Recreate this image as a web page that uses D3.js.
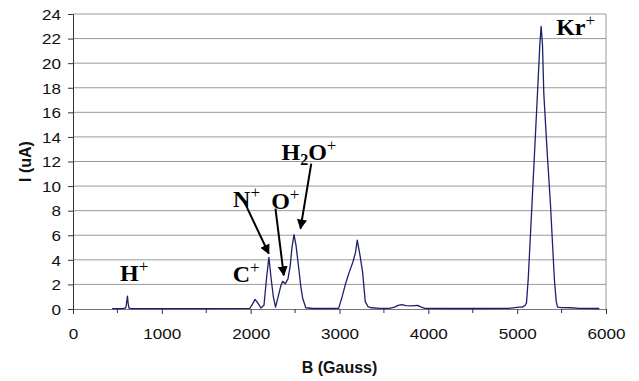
<!DOCTYPE html>
<html>
<head>
<meta charset="utf-8">
<script src="https://cdn.jsdelivr.net/npm/d3@7"></script>
<style>
  html, body { margin: 0; padding: 0; background: #fff; }
  svg { display: block; }
</style>
</head>
<body>
<div id="chart"></div>
<script>
// magnetic field (Gauss) and beam current (uA)
var fieldB = [440, 560, 595, 605, 613, 620, 630, 660, 1000, 1500, 1990, 2020, 2050, 2080, 2115,
  2150, 2180, 2205, 2230, 2255, 2280, 2310, 2340, 2360, 2390, 2420, 2445, 2465, 2488, 2510,
  2540, 2565, 2585, 2620, 2700, 2900, 2990, 3030, 3070, 3110, 3150, 3180, 3200, 3230, 3260,
  3290, 3320, 3360, 3450, 3560, 3620, 3660, 3700, 3750, 3800, 3850, 3880, 3920, 3960, 4200,
  4600, 4900, 4980, 5020, 5060, 5090, 5105, 5125, 5170, 5225, 5255, 5270, 5285, 5300, 5340,
  5375, 5400, 5420, 5440, 5455, 5500, 5600, 5700, 5925];
var currentI = [0.03, 0.03, 0.1, 0.6, 1.05, 0.5, 0.08, 0.03, 0.03, 0.03, 0.05, 0.4, 0.78, 0.5, 0.08,
  0.3, 2.6, 4.2, 2.5, 1.0, 0.15, 1.0, 1.9, 2.25, 2.05, 2.45, 3.5, 5.0, 6.05, 5.2,
  3.4, 1.8, 0.9, 0.1, 0.04, 0.04, 0.05, 1.0, 2.1, 3.0, 3.8, 4.6, 5.6, 4.4, 3.0,
  0.6, 0.2, 0.1, 0.05, 0.05, 0.15, 0.3, 0.35, 0.28, 0.25, 0.28, 0.3, 0.15, 0.05, 0.04,
  0.04, 0.05, 0.12, 0.15, 0.15, 0.3, 0.5, 2.5, 9.0, 17.0, 21.5, 23.0, 21.5, 17.5, 12.5,
  8.5, 5.0, 2.3, 0.6, 0.15, 0.12, 0.1, 0.05, 0.04];

var xTicks = [0, 1000, 2000, 3000, 4000, 5000, 6000];
var xMinorTicks = [500, 1500, 2500, 3500, 4500, 5500];
var yTicks = [0, 2, 4, 6, 8, 10, 12, 14, 16, 18, 20, 22, 24];

// ion labels: text, subscript, anchor point in data units
var ionNames = ["H", "C", "N", "O", "H", "Kr"];
var ionSubs = ["", "", "", "", "2O", ""];
var ionAtB = [530, 1798, 1802, 2231, 2347, 5439];
var ionAtI = [2.25, 2.2, 8.3, 8.17, 12.14, 22.33];

// arrows from label to peak, data units
var arrowFromB = [1930, 2279, 2682];
var arrowFromI = [8.7, 8.17, 11.83];
var arrowToB = [2204, 2373, 2561];
var arrowToI = [4.5, 2.74, 6.54];

var width = 639, height = 381;
var margin = {top: 14, right: 33, bottom: 72, left: 73};
var innerW = width - margin.left - margin.right;
var innerH = height - margin.top - margin.bottom;

var svg = d3.select("#chart").append("svg")
  .attr("width", width)
  .attr("height", height);

svg.append("defs").append("marker")
  .attr("id", "arrowHead")
  .attr("viewBox", "0 0 10 10")
  .attr("refX", 9).attr("refY", 5)
  .attr("markerWidth", 5).attr("markerHeight", 5)
  .attr("markerUnits", "strokeWidth")
  .attr("orient", "auto")
  .append("path")
  .attr("d", "M0,0 L10,5 L0,10 z")
  .attr("fill", "#000");

var g = svg.append("g")
  .attr("transform", "translate(" + margin.left + "," + margin.top + ")");

var x = d3.scaleLinear().domain([0, 6000]).range([0, innerW]);
var y = d3.scaleLinear().domain([0, 24]).range([innerH, 0]);

// gridlines
g.append("g")
  .selectAll("line")
  .data(yTicks.slice(1))
  .join("line")
  .attr("x1", 0).attr("x2", innerW)
  .attr("y1", function(d) { return y(d); })
  .attr("y2", function(d) { return y(d); })
  .attr("stroke", "#9a9a9a")
  .attr("stroke-width", 1);

// right border
g.append("line")
  .attr("x1", innerW).attr("x2", innerW)
  .attr("y1", 0).attr("y2", innerH)
  .attr("stroke", "#9a9a9a");

// y axis
var yAxis = g.append("g")
  .call(d3.axisLeft(y).tickValues(yTicks).tickSize(5).tickPadding(7).tickFormat(d3.format("d")));
yAxis.select(".domain").attr("stroke", "#333");
yAxis.selectAll(".tick line").attr("stroke", "#333");
yAxis.selectAll(".tick text")
  .attr("font-family", "Liberation Sans, Arial, sans-serif")
  .attr("font-size", 15)
  .attr("fill", "#111")
  .attr("transform", "scale(1.14,1)")
  .attr("x", -12 / 1.14)
  .attr("dy", "0.35em");

// x axis
var xAxis = g.append("g")
  .attr("transform", "translate(0," + innerH + ")")
  .call(d3.axisBottom(x).tickValues(xTicks).tickSize(5).tickPadding(14).tickFormat(d3.format("d")));
xAxis.select(".domain").attr("stroke", "#777");
xAxis.selectAll(".tick line").attr("stroke", "#333");
xAxis.selectAll(".tick text")
  .attr("font-family", "Liberation Sans, Arial, sans-serif")
  .attr("font-size", 15)
  .attr("fill", "#111")
  .attr("transform", "scale(1.14,1)");
xAxis.selectAll(".tick").each(function(d) {
  d3.select(this).select("text").attr("transform", null)
    .attr("transform", "scale(1.14,1)");
});

g.append("g")
  .selectAll("line")
  .data(xMinorTicks)
  .join("line")
  .attr("x1", function(d) { return x(d); })
  .attr("x2", function(d) { return x(d); })
  .attr("y1", innerH).attr("y2", innerH + 4)
  .attr("stroke", "#333");

// spectrum trace
var points = fieldB.map(function(b, i) { return [b, currentI[i]]; });
var line = d3.line()
  .x(function(d) { return x(d[0]); })
  .y(function(d) { return y(d[1]); });

g.append("path")
  .datum(points)
  .attr("d", line)
  .attr("fill", "none")
  .attr("stroke", "#1f1f6e")
  .attr("stroke-width", 1.3)
  .attr("stroke-linejoin", "round");

// arrows
g.append("g")
  .selectAll("line")
  .data(arrowFromB)
  .join("line")
  .attr("x1", function(d) { return x(d); })
  .attr("y1", function(d, i) { return y(arrowFromI[i]); })
  .attr("x2", function(d, i) { return x(arrowToB[i]); })
  .attr("y2", function(d, i) { return y(arrowToI[i]); })
  .attr("stroke", "#000")
  .attr("stroke-width", 2)
  .attr("marker-end", "url(#arrowHead)");

// ion labels
var labels = g.append("g")
  .selectAll("text")
  .data(ionNames)
  .join("text")
  .attr("x", function(d, i) { return x(ionAtB[i]); })
  .attr("y", function(d, i) { return y(ionAtI[i]); })
  .attr("font-family", "Liberation Serif, Times New Roman, serif")
  .attr("font-weight", "bold")
  .attr("font-size", 24)
  .attr("fill", "#000");

labels.each(function(d, i) {
  var t = d3.select(this);
  t.append("tspan").text(d);
  if (ionSubs[i]) {
    t.append("tspan").attr("font-size", 16).attr("dy", 5).text(ionSubs[i][0]);
    t.append("tspan").attr("dy", -5).text(ionSubs[i].slice(1));
  }
  t.append("tspan").attr("font-size", 17).attr("dy", -9).attr("font-weight", "normal").text("+");
});

// axis titles
svg.append("text")
  .attr("x", margin.left + innerW / 2)
  .attr("y", 373)
  .attr("text-anchor", "middle")
  .attr("font-family", "Liberation Sans, Arial, sans-serif")
  .attr("font-weight", "bold")
  .attr("font-size", 16)
  .attr("fill", "#111")
  .text("B (Gauss)");

svg.append("text")
  .attr("transform", "translate(31," + (margin.top + innerH / 2) + ") rotate(-90)")
  .attr("text-anchor", "middle")
  .attr("font-family", "Liberation Sans, Arial, sans-serif")
  .attr("font-weight", "bold")
  .attr("font-size", 16)
  .attr("fill", "#111")
  .text("I (uA)");
</script>
</body>
</html>
